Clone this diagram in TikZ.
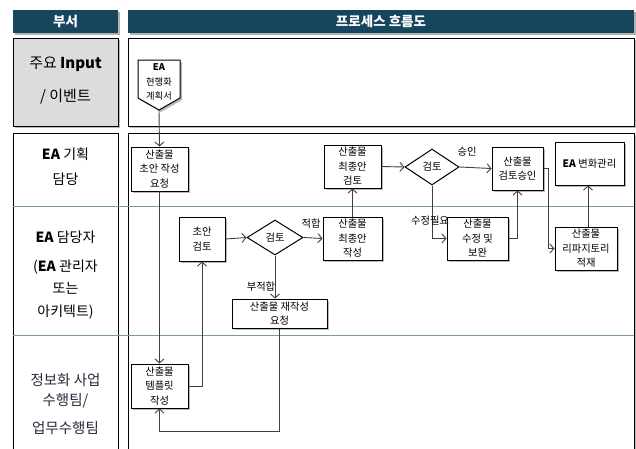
\documentclass[tikz,border=0pt]{standalone}
\usepackage{fontspec}
\setmainfont{Noto Sans CJK KR}
\usetikzlibrary{arrows.meta,shapes.geometric,shadows}
\definecolor{hdr}{HTML}{17455E}
\definecolor{inputgray}{HTML}{DCDCDC}
\definecolor{sepcol}{HTML}{7C98AB}
\definecolor{conn}{HTML}{404040}
\definecolor{navytext}{HTML}{252C3A}
\tikzset{
  frame/.style={draw=black, line width=0.9pt},
  procbox/.style={draw=black, line width=1pt, fill=white, align=center, inner sep=0pt,
    font=\fontsize{10.3}{14.5}\selectfont,
    drop shadow={shadow xshift=2pt, shadow yshift=-2pt, opacity=0.55}},
  decision/.style={diamond, draw=black, line width=1pt, fill=white, inner sep=0pt,
    font=\fontsize{10.3}{12}\selectfont},
  flow/.style={draw=conn, line width=0.9pt, -{Straight Barb[length=4pt,width=9pt]}},
  edgelabel/.style={font=\fontsize{10.3}{12}\selectfont, inner sep=0pt},
  lanelabel/.style={align=center, inner sep=0pt},
  hdrtext/.style={text=white, font=\bfseries\fontsize{13.5}{15}\selectfont}
}
\begin{document}
\begin{tikzpicture}[x=1pt,y=-1pt]
\clip (0,0) rectangle (636,448);
\useasboundingbox (0,0) rectangle (636,448);
\fill[white] (0,0) rectangle (636,448);

% headers
\fill[gray!60] (15,12) rectangle (120,35);
\fill[hdr] (13,10) rectangle (118,33);
\fill[gray!60] (130,12) rectangle (636,35);
\fill[hdr] (128,10) rectangle (634,33);
\node[hdrtext] (h1) at (65.5,21.5) {부서};
\node[hdrtext] (h2) at (381,21.5) {프로세스 흐름도};

% input row
\fill[gray!55] (15,40) rectangle (120,128);
\draw[frame, fill=inputgray] (13,38) rectangle (118,126);
\fill[gray!55] (130,40) rectangle (636,128);
\draw[frame, fill=white] (128,38) rectangle (634,126);
\node[lanelabel, font=\fontsize{15}{33}\selectfont] (l0) at (65.5,81) {주요 \textbf{Input}\\/ 이벤트};

% lower frames
\fill[gray!55] (130,135) rectangle (636,460);
\draw[frame, fill=white] (13,133) rectangle (118,460);
\draw[frame, fill=white] (128,133) rectangle (634,460);
\draw[sepcol, line width=1pt] (13,206) -- (634,206);
\draw[sepcol, line width=1pt] (13,335) -- (634,335);

% lane labels
\node[lanelabel, font=\fontsize{14}{25}\selectfont] (l1) at (65.5,167) {\textbf{EA} 기획\\담당};
\node[lanelabel, font=\fontsize{14}{22.5}\selectfont] (l2) at (65.5,275) {\textbf{EA} 담당자\\[6pt](\textbf{EA} 관리자\\또는\\아키텍트)};
\node[lanelabel, text=navytext, font=\fontsize{14.5}{20}\selectfont] (l3) at (65.5,404) {정보화 사업\\수행팀/\\[8pt]업무수행팀};

% document shape
\draw[line width=1pt, fill=white, drop shadow={shadow xshift=2pt, shadow yshift=-2pt, opacity=0.55}]
  (138,60) -- (180,60) -- (180,98) -- (159,110) -- (138,98) -- cycle;
\node[align=center, inner sep=0pt, font=\fontsize{9.3}{14.5}\selectfont] (doc) at (159,82) {\textbf{EA}\\현행화\\계획서};
\coordinate (doctip) at (159,110);

% process boxes
\node[procbox, minimum width=57pt, minimum height=44pt] (b1) at (159.5,169) {산출물\\초안 작성\\요청};
\node[procbox, minimum width=57pt, minimum height=44pt] (b2) at (159.5,386) {산출물\\템플릿\\작성};
\node[procbox, minimum width=46pt, minimum height=44pt] (b3) at (202,239) {초안\\검토};
\node[decision, minimum width=56pt, minimum height=35pt] (d1) at (275,237.5) {검토};
\node[procbox, minimum width=59pt, minimum height=43pt] (b4) at (352.5,238.5) {산출물\\최종안\\작성};
\node[procbox, minimum width=95pt, minimum height=29pt] (b5) at (279.5,313.5) {산출물 재작성\\요청};
\node[procbox, minimum width=57pt, minimum height=43pt] (b6) at (352.5,166.5) {산출물\\최종안\\검토};
\node[decision, minimum width=54pt, minimum height=36pt] (d2) at (432,167) {검토};
\node[procbox, minimum width=51pt, minimum height=43pt] (b7) at (517.5,168.5) {산출물\\검토승인};
\node[procbox, minimum width=61pt, minimum height=43pt] (b8) at (477.5,238.5) {산출물\\수정 및\\보완};
\node[procbox, minimum width=62pt, minimum height=43pt] (b9) at (586,248.5) {산출물\\리파지토리\\적재};
\node[procbox, minimum width=69pt, minimum height=43pt] (b10) at (589.5,163.5) {\textbf{EA} 변화관리};

% connectors
\coordinate (lp) at (159.5,431);
\coordinate (c1) at (548,168.5);
\draw[flow] (doctip) -- (b1.north);
\draw[flow] (b1.south) -- (b2.north);
\draw[flow] (b2.east) -| (b3.south);
\draw[flow] (b3.east) -- (d1.west);
\draw[flow] (d1.east) -- (b4.west);
\draw[flow] (d1.south) -- (d1.south |- b5.north);
\draw[flow] (b5.south) |- (lp) -- (b2.south);
\draw[flow] (b4.north) -- (b6.south);
\draw[flow] (b6.east) -- (d2.west);
\draw[flow] (d2.east) -- (b7.west);
\draw[flow] (d2.south) |- (b8.west);
\draw[flow] (b8.east) -| (b7.south);
\draw[flow] (b7.east) -- (c1) |- (b9.west);
\draw[flow] (b9.north -| 588,0) -- (b10.south -| 588,0);

% edge labels
\node[edgelabel] (e1) at (311,224) {적합};
\node[edgelabel] (e2) at (261,287) {부적합};
\node[edgelabel] (e3) at (467,152) {승인};
\node[edgelabel] (e4) at (430,221) {수정필요};
\end{tikzpicture}
\end{document}
